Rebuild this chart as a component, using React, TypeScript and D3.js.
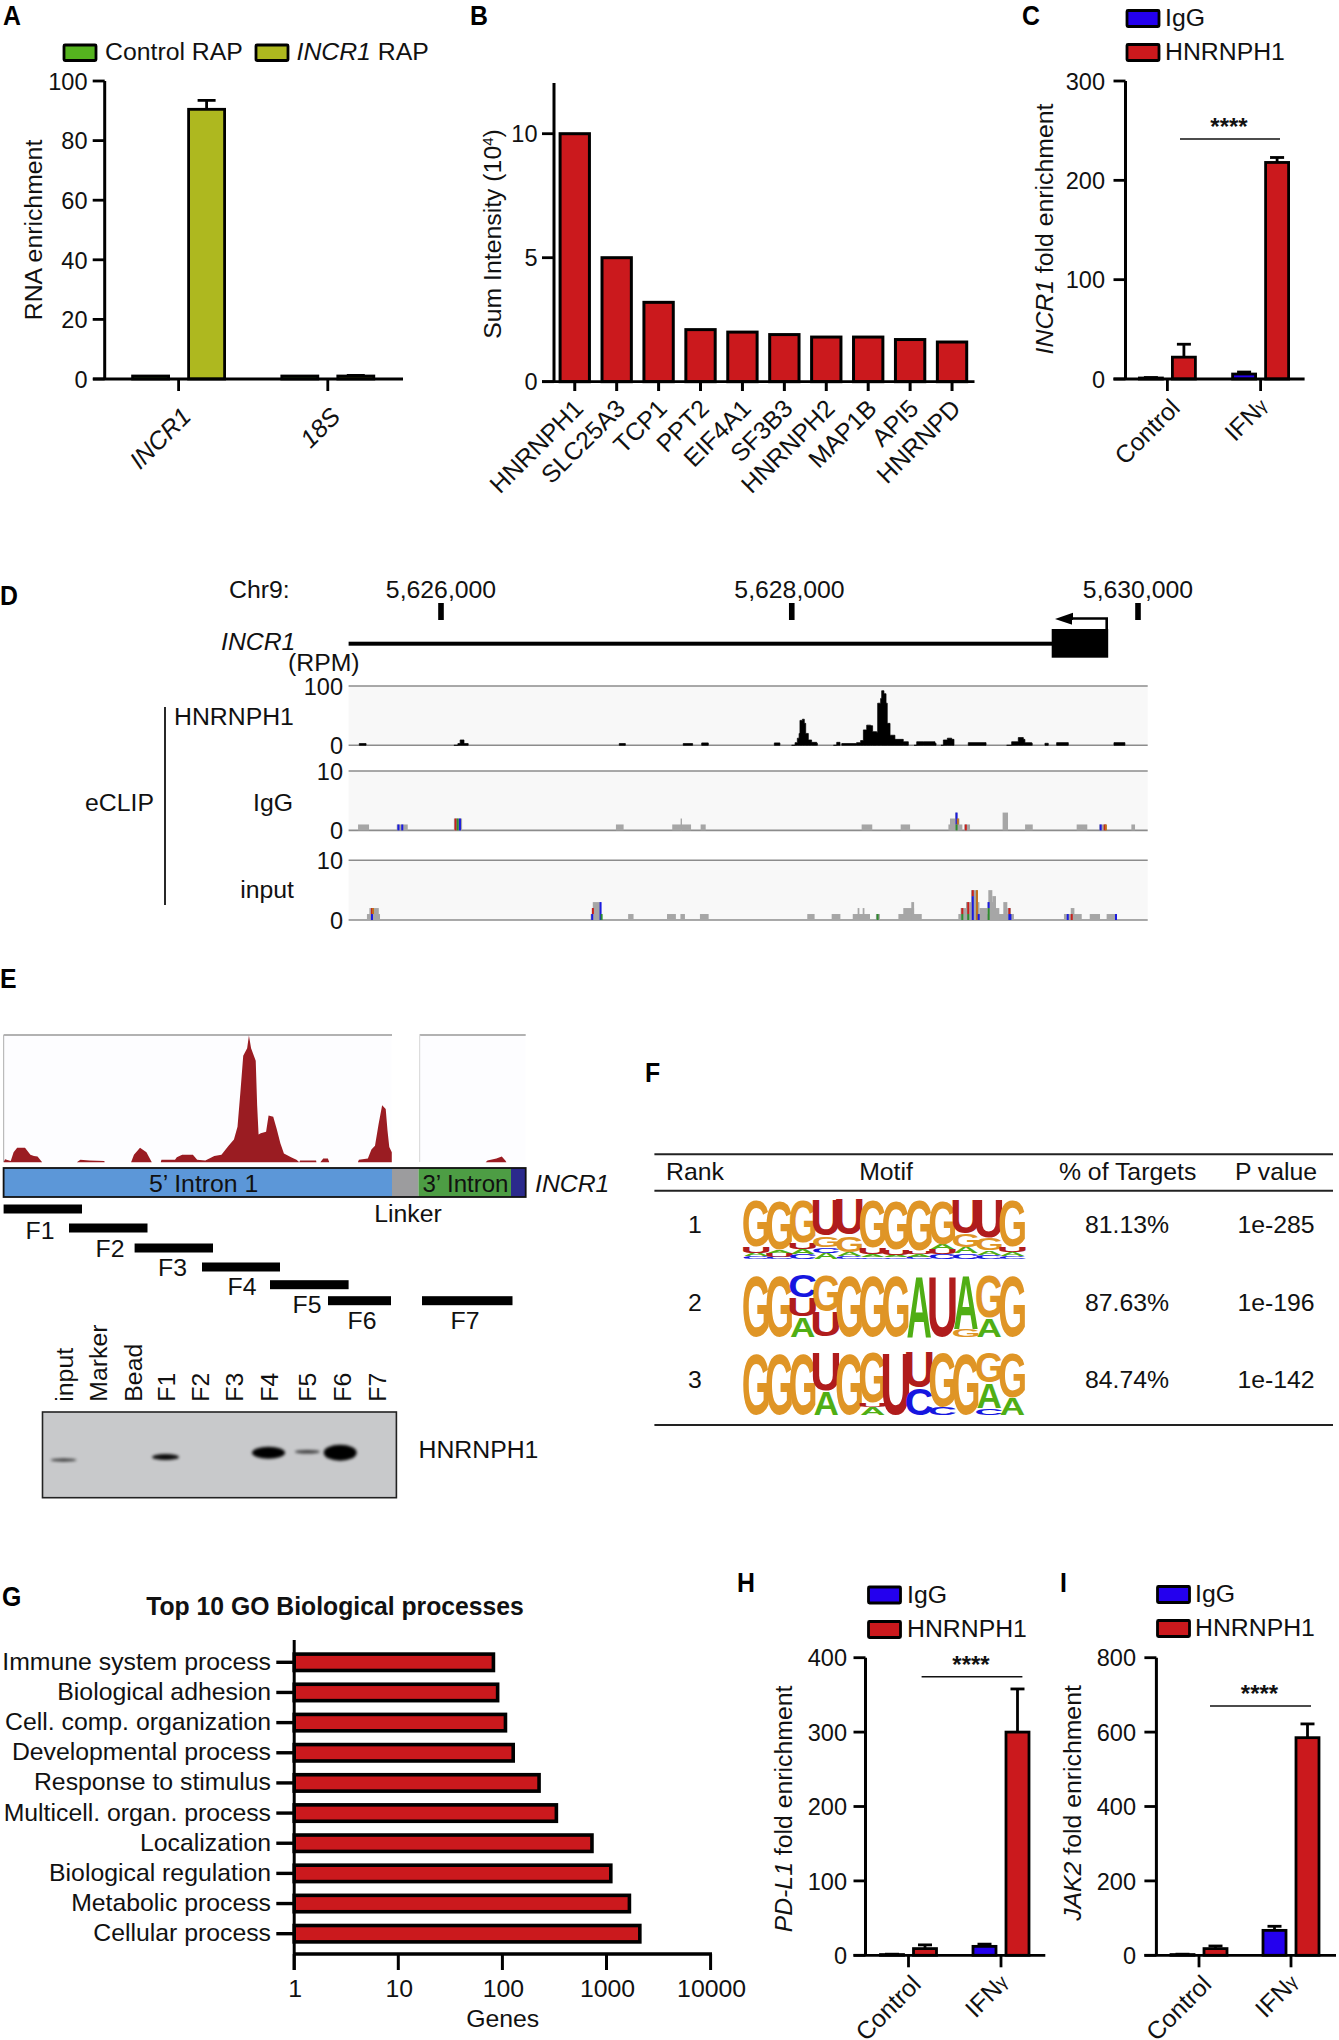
import React from "react";
import * as d3 from "d3";

const FONT = "'Liberation Sans', Arial, sans-serif";
const RED = "#cb191d";
const BLUE = "#2400ee";
const GREEN = "#55b31f";
const OLIVE = "#aeb81f";

// Panel A
const aGroups = ["INCR1", "18S"];
const aControl = [1, 1];
const aRap = [90.5, 1];
const aRapErr = [93.5, 1.2];
const aTicks = [0, 20, 40, 60, 80, 100];
// Panel B
const bProteins = ["HNRNPH1", "SLC25A3", "TCP1", "PPT2", "EIF4A1", "SF3B3", "HNRNPH2", "MAP1B", "API5", "HNRNPD"];
const bIntensity = [10, 5, 3.2, 2.1, 2.0, 1.9, 1.8, 1.8, 1.7, 1.6];
const bTicks = [0, 5, 10];
// Panels C, H, I
const treatments = ["Control", "IFNγ"];
const cIgG = [1, 5];
const cIgGErr = [1.5, 7];
const cHn = [22, 218];
const cHnErr = [35, 223];
const cTicks = [0, 100, 200, 300];
const hIgG = [1, 12];
const hIgGErr = [1.5, 15];
const hHn = [9, 300];
const hHnErr = [14, 358];
const hTicks = [0, 100, 200, 300, 400];
const iIgG = [2, 67];
const iIgGErr = [3, 78];
const iHn = [18, 585];
const iHnErr = [25, 622];
const iTicks = [0, 200, 400, 600, 800];

// Panel D: genome positions in kb relative to 5,626,000; RPM coverage
const dLabels = [5626000, 5628000, 5630000];
const dTickKb = [0, 2.013, 4];
const dHnrnph1: [number, number][][] = [
  [[-0.469, 0], [-0.469, 3], [-0.43, 3], [-0.43, 0]],
  [[0.074, 0], [0.097, 3], [0.11, 9], [0.132, 3], [0.156, 0]],
  [[1.023, 0], [1.023, 3], [1.058, 3], [1.058, 0]],
  [[1.39, 0], [1.39, 3], [1.444, 3], [1.444, 0]],
  [[1.496, 0], [1.496, 4], [1.534, 4], [1.534, 0]],
  [[1.913, 0], [1.913, 4], [1.945, 4], [1.945, 0]],
  [[2.012, 0], [2.032, 4.5], [2.045, 12], [2.055, 20], [2.06, 42], [2.074, 44], [2.085, 37], [2.093, 20], [2.108, 9], [2.127, 5], [2.156, 3.4], [2.16, 0]],
  [[2.252, 0], [2.271, 5], [2.29, 0]],
  [[2.3, 0], [2.3, 3], [2.37, 3], [2.376, 3], [2.385, 4.5], [2.408, 8], [2.424, 26], [2.443, 34], [2.466, 33], [2.477, 23], [2.5, 22], [2.506, 71], [2.523, 79], [2.529, 92], [2.542, 87], [2.554, 71], [2.561, 37], [2.577, 17], [2.605, 10], [2.653, 6], [2.682, 0]],
  [[2.715, 0], [2.73, 6], [2.768, 6], [2.835, 3.5], [2.841, 0]],
  [[2.869, 0], [2.883, 9], [2.906, 12], [2.931, 10], [2.944, 2], [2.944, 0]],
  [[3.026, 0], [3.026, 4.5], [3.128, 4.5], [3.128, 0]],
  [[3.246, 0], [3.275, 6], [3.313, 13], [3.342, 10], [3.351, 4.5], [3.39, 3.4], [3.393, 0]],
  [[3.466, 0], [3.466, 3.4], [3.485, 3.4], [3.485, 0]],
  [[3.533, 0], [3.533, 4.5], [3.6, 4.5], [3.6, 0]],
  [[3.862, 0], [3.862, 4.5], [3.925, 4.5], [3.925, 0]],
];
// [start kb, end kb, stacked read level]
const dIgG: [number, number, number][] = [
  [-0.476, -0.413, 1], [-0.254, -0.191, 1], [0.074, 0.121, 2], [1.004, 1.048, 1], [1.327, 1.435, 1], [1.375, 1.383, 2],
  [1.49, 1.519, 1], [2.414, 2.475, 1], [2.638, 2.692, 1], [2.912, 2.992, 1], [2.921, 2.975, 2], [2.95, 2.963, 3],
  [3.003, 3.036, 1], [3.223, 3.254, 3], [3.352, 3.396, 1], [3.648, 3.709, 1], [3.778, 3.815, 1], [3.962, 3.983, 1],
];
const dInput: [number, number, number][] = [
  [-0.425, -0.35, 1], [-0.411, -0.357, 2], [0.859, 0.917, 1], [0.866, 0.917, 2], [0.871, 0.917, 3], [1.074, 1.105, 1], [1.297, 1.348, 1],
  [1.374, 1.4, 1], [1.486, 1.536, 1], [2.102, 2.144, 1], [2.242, 2.292, 1], [2.363, 2.462, 1], [2.391, 2.401, 2], [2.42, 2.43, 2],
  [2.496, 2.519, 1], [2.625, 2.759, 1], [2.653, 2.715, 2], [2.699, 2.715, 3], [2.969, 3.288, 1], [2.982, 3.032, 2], [3.013, 3.032, 3],
  [3.032, 3.09, 3], [3.042, 3.08, 5], [3.09, 3.137, 2], [3.137, 3.185, 3], [3.141, 3.164, 5], [3.164, 3.185, 4], [3.185, 3.204, 2],
  [3.227, 3.25, 3], [3.25, 3.271, 2], [3.575, 3.677, 1], [3.614, 3.635, 2], [3.723, 3.782, 1], [3.82, 3.878, 1],
];
// mismatch stripes: [kb, from level, to level, colour name]
const dIgGStripes: [number, number, number, string][] = [
  [-0.25, 0, 1, "b"], [-0.228, 0, 1, "b"], [0.078, 0, 2, "r"], [0.09, 0, 2, "g"], [0.103, 0, 2, "b"], [2.953, 1, 3, "b"], [2.953, 0, 1, "g"],
  [2.96, 1, 2, "o"], [3.006, 0, 1, "r"], [3.78, 0, 1, "b"], [3.803, 0, 1, "r"], [3.81, 0, 1, "o"],
];
const dInputStripes: [number, number, number, string][] = [
  [-0.402, 1, 2, "r"], [-0.396, 1, 2, "o"], [-0.402, 0, 1, "b"], [0.862, 0, 1, "b"], [0.866, 1, 2, "r"], [0.91, 0, 3, "b"], [0.916, 0, 1, "g"],
  [2.5, 0, 1, "g"], [2.986, 0, 1, "g"], [2.986, 1, 2, "r"], [3.02, 1, 3, "r"], [3.02, 0, 1, "g"], [3.046, 0, 4, "b"], [3.046, 4, 5, "r"],
  [3.07, 0, 5, "o"], [3.08, 0, 1, "b"], [3.137, 0, 2, "g"], [3.137, 2, 3, "b"], [3.256, 0, 1, "b"], [3.256, 1, 2, "r"], [3.262, 0, 1, "b"],
  [3.591, 0, 1, "b"], [3.614, 0, 1, "r"], [3.868, 0, 1, "b"],
];
const stripeColors: Record<string, string> = { r: "#c8201c", g: "#2e8b2e", b: "#1a1ae0", o: "#c0701a" };

// Panel E: position along construct; signal in %
const eLeft: [number, number][] = [
  [10, 0], [14, 2.5], [30, 1], [38, 8], [48, 11.5], [70, 11.5], [85, 6], [95, 5], [105, 4.5], [118, 0], [215, 0], [225, 2], [250, 1.5], [292, 1], [293, 0],
  [367, 0], [375, 6], [392, 11.5], [410, 8], [425, 0], [450, 0], [452, 2], [490, 2], [495, 4], [510, 6], [540, 6], [552, 2], [575, 1.5], [600, 5], [620, 6],
  [640, 13], [655, 18], [665, 28], [673, 55], [681, 84], [692, 90], [697, 100], [703, 90], [716, 80], [720, 45], [724, 22], [730, 23], [745, 24], [752, 37],
  [765, 36], [775, 26], [785, 15], [795, 7], [815, 4], [830, 2], [838, 0], [840, 1.5], [885, 1.5], [886, 0], [897, 0], [905, 3], [918, 3], [922, 0],
  [1002, 0], [1005, 2], [1030, 3], [1040, 10], [1050, 13], [1060, 30], [1070, 45], [1080, 42], [1085, 25], [1090, 12], [1097, 8], [1097, 0],
];
const eRight: [number, number][] = [[1360, 0], [1365, 1.5], [1390, 3], [1405, 4.5], [1415, 1.5], [1418, 0]];
const eLanes = ["input", "Marker", "Bead", "F1", "F2", "F3", "F4", "F5", "F6", "F7"];
const eLaneShift = [0, 0, 0, -2.5, -3, -4, -4, 0, 0, 0];
const eBands = [
  { lane: "input", w: 26, h: 3, o: 0.75, cy: 1460 }, { lane: "F1", w: 27, h: 6, o: 0.95, cy: 1457 }, { lane: "F4", w: 33, h: 12, o: 1, cy: 1452.7 },
  { lane: "F5", w: 25, h: 3.5, o: 0.7, cy: 1451.7 }, { lane: "F6", w: 33, h: 16, o: 1, cy: 1452.7 },
];

// Panel F
const fRanks = ["1", "2", "3"];
const fTargets = ["81.13%", "87.63%", "84.74%"];
const fP = ["1e-285", "1e-196", "1e-142"];
type Stack = [string, number][];
const logo1: Stack[] = [
  [["C", .045], ["A", .055], ["U", .1], ["G", .8]], [["C", .04], ["U", .06], ["A", .05], ["G", .85]], [["C", .08], ["A", .09], ["U", .1], ["G", .73]],
  [["A", .1], ["C", .1], ["G", .19], ["U", .61]], [["C", .05], ["A", .07], ["G", .28], ["U", .6]], [["C", .03], ["A", .05], ["U", .1], ["G", .82]],
  [["C", .03], ["A", .04], ["U", .09], ["G", .84]], [["C", .04], ["A", .05], ["U", .05], ["G", .86]], [["C", .08], ["U", .08], ["A", .08], ["G", .76]],
  [["C", .1], ["A", .1], ["G", .22], ["U", .58]], [["C", .07], ["A", .07], ["G", .21], ["U", .65]], [["C", .05], ["A", .07], ["U", .09], ["G", .79]],
];
const logo2: Stack[] = [
  [["G", 1]], [["G", 1]], [["A", .32], ["U", .31], ["C", .37]], [["U", .4], ["G", .6]], [["G", 1]], [["G", 1]], [["G", 1]], [["A", 1]], [["U", 1]],
  [["G", .13], ["A", .87]], [["A", .3], ["G", .7]], [["G", 1]],
];
const logo3: Stack[] = [
  [["G", 1]], [["G", 1]], [["G", 1]], [["A", .38], ["U", .62]], [["G", 1]], [["A", .12], ["U", .07], ["G", .81]], [["U", 1]], [["C", .43], ["U", .57]],
  [["C", .12], ["G", .88]], [["G", 1]], [["C", .11], ["A", .4], ["G", .49]], [["A", .27], ["G", .73]],
];
const logos = [logo1, logo2, logo3];
const logoColor: Record<string, string> = { G: "#df9526", U: "#b01c1c", A: "#50ae14", C: "#1616e0" };
// glyph metrics in em: left, right, top, bottom
const glyph: Record<string, number[]> = {
  G: [0.045, 0.72, 0.728, -0.012], U: [0.07, 0.65, 0.716, -0.012], A: [0.0, 0.72, 0.716, 0], C: [0.045, 0.68, 0.728, -0.012],
};

// Panel G
const gProcesses = ["Immune system process", "Biological adhesion", "Cell. comp. organization", "Developmental process", "Response to stimulus",
  "Multicell. organ. process", "Localization", "Biological regulation", "Metabolic process", "Cellular process"];
const gGenes = [82, 90, 107, 127, 225, 330, 725, 1100, 1660, 2090];
const gTicks = [1, 10, 100, 1000, 10000];

function Tx({ x, y, r = 0, size = 24.8, anchor = "start", bold, italic, sx = 1, fill = "#111", children }: any) {
  return (
    <text transform={`translate(${x},${y}) rotate(${r}) scale(${sx},1)`} fontSize={size} textAnchor={anchor} fontFamily={FONT}
      fontWeight={bold ? 700 : 400} fontStyle={italic ? "italic" : "normal"} fill={fill}>
      {children}
    </text>
  );
}

const It = ({ children }: any) => <tspan fontStyle="italic">{children}</tspan>;
const Gamma = () => <tspan fontSize={18} dy={-2}>γ</tspan>;
const PanelLetter = ({ x, y, t }: any) => <Tx x={x} y={y} size={27} bold sx={0.92} fill="#000">{t}</Tx>;

function YAxis({ y, ticks, x, labelX, top }: any) {
  return (
    <g>
      <line x1={x} x2={x} y1={top ?? y(d3.max(ticks) as number)} y2={y(0)} stroke="#000" strokeWidth={3} />
      {ticks.map((t: number) => (
        <g key={t}>
          <line x1={x - 12} x2={x} y1={y(t)} y2={y(t)} stroke="#000" strokeWidth={2.8} />
          <Tx x={labelX} y={y(t) + 8.7} anchor="end" sx={0.95}>{t}</Tx>
        </g>
      ))}
    </g>
  );
}

function Legend({ items, x, tx }: any) {
  return (
    <g>
      {items.map((it: any) => (
        <g key={it.label}>
          <rect x={x} y={it.y} width={32} height={16} fill={it.fill} stroke="#000" strokeWidth={2.8} rx={1} />
          <Tx x={tx} y={it.base}>{it.label}</Tx>
        </g>
      ))}
    </g>
  );
}

function Err({ cx, from, to, half = 8 }: any) {
  return (
    <g stroke="#000" strokeWidth={2.8}>
      <line x1={cx} x2={cx} y1={from} y2={to} />
      <line x1={cx - half} x2={cx + half} y1={to} y2={to} />
    </g>
  );
}

function GroupedPanel({ cfg }: any) {
  const y = d3.scaleLinear().domain([0, cfg.max]).range([cfg.y0, cfg.yTop]);
  const gx = d3.scalePoint<string>().domain(treatments).range(cfg.groupX);
  const sx = d3.scalePoint<string>().domain(["IgG", "HNRNPH1"]).range([-16.5, 16.5]);
  const bw = 23;
  return (
    <g>
      {treatments.map((t, i) =>
        ([["IgG", cfg.igg[i], cfg.iggErr[i], BLUE], ["HNRNPH1", cfg.hn[i], cfg.hnErr[i], RED]] as any[]).map(([s, v, e, f]) => {
          const cx = (gx(t) as number) + (sx(s) as number);
          return (
            <g key={t + s}>
              <Err cx={cx} from={y(v)} to={y(e)} half={7} />
              <rect x={cx - bw / 2} y={y(v)} width={bw} height={y(0) - y(v)} fill={f} stroke="#000" strokeWidth={2.8} />
            </g>
          );
        })
      )}
      <YAxis y={y} ticks={cfg.ticks} x={cfg.axisX} labelX={cfg.labelX} />
      <line x1={cfg.axisX - 12} x2={cfg.axisEnd} y1={y(0)} y2={y(0)} stroke="#000" strokeWidth={2.8} />
      {treatments.map((t) => (
        <g key={t}>
          <line x1={gx(t)} x2={gx(t)} y1={y(0)} y2={y(0) + 12} stroke="#000" strokeWidth={2.8} />
          {t === "Control"
            ? <Tx x={(gx(t) as number) + 14} y={y(0) + 30.5} r={-45} anchor="end">{t}</Tx>
            : <Tx x={(gx(t) as number) + 9} y={y(0) + 29} r={-45} anchor="end">IFN<Gamma /></Tx>}
        </g>
      ))}
      <line x1={cfg.sig[0]} x2={cfg.sig[1]} y1={cfg.sig[2]} y2={cfg.sig[2]} stroke="#111" strokeWidth={1.6} />
      <Tx x={(cfg.sig[0] + cfg.sig[1]) / 2 - 1} y={cfg.sig[2] - 4} size={24} bold anchor="middle">****</Tx>
      <Tx x={cfg.ylabelX} y={cfg.ylabelY} r={-90} anchor="middle">{cfg.ylabel}</Tx>
      <Legend x={cfg.legX} tx={cfg.legTx} items={[
        { label: "IgG", y: cfg.legY[0], base: cfg.legY[0] + 15.5, fill: BLUE },
        { label: "HNRNPH1", y: cfg.legY[1], base: cfg.legY[1] + 15.5, fill: RED },
      ]} />
    </g>
  );
}

function PanelA() {
  const y = d3.scaleLinear().domain([0, 100]).range([379, 81]);
  const gx = d3.scalePoint<string>().domain(aGroups).range([178.6, 327.8]);
  const bw = 36;
  return (
    <g>
      <PanelLetter x={3} y={24.5} t="A" />
      <rect x={64} y={45} width={32} height={15.5} fill={GREEN} stroke="#000" strokeWidth={2.8} rx={1} />
      <Tx x={105} y={60}>Control RAP</Tx>
      <rect x={256} y={45} width={32} height={15.5} fill={OLIVE} stroke="#000" strokeWidth={2.8} rx={1} />
      <Tx x={296.5} y={60}><It>INCR1</It> RAP</Tx>
      {aGroups.map((g, i) => (
        <g key={g}>
          <rect x={(gx(g) as number) - 28 - bw / 2} y={y(aControl[i])} width={bw} height={y(0) - y(aControl[i])} fill={GREEN} stroke="#000" strokeWidth={2.8} />
          <Err cx={(gx(g) as number) + 28} from={y(aRap[i])} to={y(aRapErr[i])} half={9} />
          <rect x={(gx(g) as number) + 28 - bw / 2} y={y(aRap[i])} width={bw} height={y(0) - y(aRap[i])} fill={OLIVE} stroke="#000" strokeWidth={2.8} />
          <line x1={gx(g)} x2={gx(g)} y1={379} y2={391} stroke="#000" strokeWidth={2.8} />
          <Tx x={(gx(g) as number) + 14} y={418} r={-45} anchor="end" italic>{g}</Tx>
        </g>
      ))}
      <YAxis y={y} ticks={aTicks} x={104.7} labelX={87.5} />
      <line x1={93} x2={403} y1={379} y2={379} stroke="#000" strokeWidth={2.8} />
      <Tx x={42} y={230} r={-90} anchor="middle">RNA enrichment</Tx>
    </g>
  );
}

function PanelB() {
  const y = d3.scaleLinear().domain([0, 10]).range([381.7, 133.7]);
  const x = d3.scaleBand<string>().domain(bProteins).range([553.8, 973]).paddingInner(0.3).paddingOuter(0.15);
  return (
    <g>
      <PanelLetter x={470} y={24.5} t="B" />
      {bProteins.map((p, i) => {
        const c = (x(p) as number) + x.bandwidth() / 2;
        return (
          <g key={p}>
            <rect x={x(p)} y={y(bIntensity[i])} width={x.bandwidth()} height={y(0) - y(bIntensity[i])} fill={RED} stroke="#000" strokeWidth={3} />
            <line x1={c} x2={c} y1={381.7} y2={391} stroke="#000" strokeWidth={3} />
            <Tx x={c + 10} y={410} r={-45} anchor="end">{p}</Tx>
          </g>
        );
      })}
      <YAxis y={y} ticks={bTicks} x={554} labelX={537.5} top={83} />
      <line x1={542} x2={974.5} y1={381.7} y2={381.7} stroke="#000" strokeWidth={2.8} />
      <Tx x={501} y={234} r={-90} anchor="middle" size={24.8}>Sum Intensity (10<tspan fontSize={15} dy={-8}>4</tspan><tspan dy={8}>)</tspan></Tx>
    </g>
  );
}

function PanelD() {
  const x = d3.scaleLinear().domain([0, 4]).range([441, 1138]);
  const left = 348.6, right = 1147.7;
  const tracks = [
    { top: 686, bottom: 745.3, max: 100 },
    { top: 771, bottom: 830.4, max: 10 },
    { top: 860.3, bottom: 920, max: 10 },
  ];
  const y0 = d3.scaleLinear().domain([0, 100]).range([tracks[0].bottom, tracks[0].top]);
  const area = d3.area<[number, number]>().x((d) => x(d[0])).y0(tracks[0].bottom).y1((d) => y0(d[1])).curve(d3.curveStepAfter);
  const reads = (data: [number, number, number][], stripes: [number, number, number, string][], t: any) => {
    const y = d3.scaleLinear().domain([0, t.max]).range([t.bottom, t.top]);
    return (
      <g>
        {data.map((d, i) => (
          <rect key={i} x={x(d[0])} width={x(d[1]) - x(d[0])} y={y(d[2])} height={y(0) - y(d[2])} fill="#a6a6a6" />
        ))}
        {stripes.map((s, i) => (
          <rect key={i} x={x(s[0])} width={2} y={y(s[2])} height={y(s[1]) - y(s[2])} fill={stripeColors[s[3]]} />
        ))}
      </g>
    );
  };
  return (
    <g>
      <PanelLetter x={0} y={605} t="D" />
      <Tx x={229} y={598}>Chr9:</Tx>
      {dLabels.map((p, i) => (
        <g key={p}>
          <rect x={x(dTickKb[i]) - 2.8} y={603} width={5.6} height={17} fill="#000" />
          <Tx x={x((p - 5626000) / 1000)} y={598} anchor="middle">{d3.format(",")(p)}</Tx>
        </g>
      ))}
      <Tx x={221} y={650} italic>INCR1</Tx>
      <Tx x={288} y={671}>(RPM)</Tx>
      <rect x={348.6} y={641.7} width={704} height={4} fill="#000" />
      <rect x={1051.7} y={629} width={56.5} height={28.7} fill="#000" />
      <path d="M1106.7,629 V618.5 H1072" fill="none" stroke="#000" strokeWidth={2.6} />
      <path d="M1055,619 L1073,612.7 V625 Z" fill="#000" />
      <rect x={1072} y={620} width={33} height={9} fill="#fff" />
      {tracks.map((t, i) => (
        <g key={i}>
          <rect x={left} y={t.top} width={right - left} height={t.bottom - t.top} fill="#f8f8f8" />
          <line x1={left} x2={right} y1={t.top} y2={t.top} stroke="#8c8c8c" strokeWidth={1.6} />
          <line x1={left} x2={right} y1={t.bottom} y2={t.bottom} stroke="#8c8c8c" strokeWidth={1.6} />
          <Tx x={343} y={t.top + 9} anchor="end" sx={0.95}>{t.max}</Tx>
          <Tx x={343} y={t.bottom + 9} anchor="end" sx={0.95}>0</Tx>
        </g>
      ))}
      {dHnrnph1.map((d, i) => <path key={i} d={area(d) as string} fill="#000" stroke="#000" strokeWidth={0.7} />)}
      {reads(dIgG, dIgGStripes, tracks[1])}
      {reads(dInput, dInputStripes, tracks[2])}
      <Tx x={174} y={725}>HNRNPH1</Tx>
      <Tx x={293} y={810.7} anchor="end">IgG</Tx>
      <Tx x={294} y={898} anchor="end">input</Tx>
      <Tx x={85} y={810.7}>eCLIP</Tx>
      <line x1={165} x2={165} y1={707} y2={905} stroke="#111" strokeWidth={1.8} />
    </g>
  );
}

function PanelE() {
  const x = d3.scaleLinear().domain([10, 1472]).range([3.6, 525.7]);
  const y = d3.scaleLinear().domain([0, 100]).range([1162.3, 1035.5]);
  const area = d3.area<[number, number]>().x((d) => x(d[0])).y0(1162.3).y1((d) => y(d[1]));
  const frag: [string, number, number, number][] = [
    ["F1", 3.6, 82, 1209], ["F2", 69, 147.5, 1228], ["F3", 134.6, 213, 1248], ["F4", 202, 280, 1267],
    ["F5", 270, 348.6, 1284.7], ["F6", 328, 391, 1300.7], ["F7", 422, 512.5, 1300.7],
  ];
  const fragLabel: Record<string, number[]> = { F1: [40, 1239], F2: [110, 1256.7], F3: [172.5, 1276], F4: [242, 1295], F5: [307, 1313], F6: [362, 1329], F7: [465, 1329] };
  const lane = d3.scalePoint<string>().domain(eLanes).range([63.6, 377]);
  const laneX = (l: string) => (lane(l) as number) + eLaneShift[eLanes.indexOf(l)];
  return (
    <g>
      <defs>
        <filter id="bandBlur" x="-30%" y="-80%" width="160%" height="260%"><feGaussianBlur stdDeviation="1.5" /></filter>
      </defs>
      <PanelLetter x={0} y={988} t="E" />
      <rect x={3.6} y={1035} width={388} height={127} fill="#fdfdff" />
      <rect x={419.6} y={1035} width={106} height={127} fill="#fdfdff" />
      <line x1={3.6} x2={392} y1={1035} y2={1035} stroke="#999" strokeWidth={1.4} />
      <line x1={419.6} x2={525.7} y1={1035} y2={1035} stroke="#999" strokeWidth={1.4} />
      <line x1={3.6} x2={3.6} y1={1035} y2={1162} stroke="#bbb" strokeWidth={1.2} />
      <line x1={419.6} x2={419.6} y1={1035} y2={1162} stroke="#ddd" strokeWidth={1.2} />
      <path d={area(eLeft) as string} fill="#9a1c22" />
      <path d={area(eRight) as string} fill="#9a1c22" />
      <rect x={3.6} y={1168} width={388.4} height={29} fill="#5c97d8" />
      <rect x={392} y={1168} width={26.5} height={29} fill="#9c9c9e" />
      <rect x={418.5} y={1168} width={92.5} height={29} fill="#4d9d44" />
      <rect x={511} y={1168} width={14.7} height={29} fill="#2b2a8c" />
      <rect x={3.6} y={1168} width={522.1} height={29} fill="none" stroke="#111" strokeWidth={1.8} />
      <Tx x={203.6} y={1191.5} anchor="middle">5’ Intron 1</Tx>
      <Tx x={465.5} y={1191.5} anchor="middle" sx={0.97}>3’ Intron</Tx>
      <Tx x={535} y={1191.5} italic>INCR1</Tx>
      <Tx x={408} y={1221.5} anchor="middle">Linker</Tx>
      {frag.map(([n, a, b, yy]) => (
        <g key={n}>
          <rect x={a} y={yy - 4.5} width={b - a} height={9} fill="#000" />
          <Tx x={fragLabel[n][0]} y={fragLabel[n][1]} anchor="middle">{n}</Tx>
        </g>
      ))}
      {eLanes.map((l) => (
        <Tx key={l} x={laneX(l) + 9} y={1401.7} r={-90}>{l}</Tx>
      ))}
      <rect x={42.5} y={1412} width={353.9} height={85.7} fill="#c8c9cb" stroke="#222" strokeWidth={1.6} />
      {eBands.map((b) => (
        <ellipse key={b.lane} cx={laneX(b.lane) + (b.lane === "F6" ? -2 : 0)} cy={b.cy}
          rx={b.w / 2} ry={b.h / 2} fill="#000" opacity={b.o} filter="url(#bandBlur)" />
      ))}
      <Tx x={418.5} y={1458}>HNRNPH1</Tx>
    </g>
  );
}

function Logo({ stacks, top, bottom }: any) {
  const cols = d3.scaleBand<number>().domain(d3.range(stacks.length)).range([744.5, 1024]);
  const h = d3.scaleLinear().domain([0, 1]).range([0, bottom - top]);
  return (
    <g>
      {stacks.map((s: Stack, i: number) => {
        let acc = 0;
        return s.map(([ch, f], k) => {
          const m = glyph[ch];
          const w = cols.bandwidth() + 2;
          const hh = h(f);
          const baseY = bottom - h(acc);
          acc += f;
          const fs = 100;
          const sx = w / ((m[1] - m[0]) * fs);
          const sy = hh / ((m[2] - m[3]) * fs);
          const tx = (cols(i) as number) - 1 - m[0] * fs * sx;
          const ty = baseY + m[3] * fs * sy;
          return (
            <text key={k} transform={`translate(${tx},${ty}) scale(${sx},${sy})`} fontFamily={FONT} fontWeight={700} fontSize={fs} fill={logoColor[ch]}>{ch}</text>
          );
        });
      })}
    </g>
  );
}

function PanelF() {
  const rows = [[1199, 1259], [1274, 1336.7], [1351.5, 1415]];
  const base = [1233, 1310.7, 1388];
  return (
    <g>
      <PanelLetter x={645} y={1082} t="F" />
      {[1154.3, 1190.7, 1425].map((yy) => <line key={yy} x1={654.4} x2={1333} y1={yy} y2={yy} stroke="#222" strokeWidth={2} />)}
      <Tx x={695} y={1180} anchor="middle">Rank</Tx>
      <Tx x={886} y={1180} anchor="middle">Motif</Tx>
      <Tx x={1127.6} y={1180} anchor="middle">% of Targets</Tx>
      <Tx x={1276} y={1180} anchor="middle">P value</Tx>
      {fRanks.map((r, i) => (
        <g key={r}>
          <Tx x={695} y={base[i]} anchor="middle">{r}</Tx>
          <Logo stacks={logos[i]} top={rows[i][0]} bottom={rows[i][1]} />
          <Tx x={1127} y={base[i]} anchor="middle">{fTargets[i]}</Tx>
          <Tx x={1276} y={base[i]} anchor="middle">{fP[i]}</Tx>
        </g>
      ))}
    </g>
  );
}

function PanelG() {
  const x = d3.scaleLog().domain([1, 10000]).range([294.2, 710.6]);
  const y = d3.scalePoint<string>().domain(gProcesses).range([1662.3, 1933.7]);
  return (
    <g>
      <PanelLetter x={2} y={1606} t="G" />
      <Tx x={335} y={1615} anchor="middle" bold size={25} sx={0.99}>Top 10 GO Biological processes</Tx>
      {gProcesses.map((p, i) => {
        const c = y(p) as number;
        return (
          <g key={p}>
            <rect x={x(1)} y={c - 8.2} width={x(gGenes[i]) - x(1)} height={16.4} fill={RED} stroke="#000" strokeWidth={3.6} />
            <line x1={276.3} x2={294.2} y1={c} y2={c} stroke="#000" strokeWidth={3.4} />
            <Tx x={271} y={c + 7.5} anchor="end" size={24.8}>{p}</Tx>
          </g>
        );
      })}
      <line x1={294.2} x2={294.2} y1={1640} y2={1970} stroke="#000" strokeWidth={3} />
      <line x1={294.2} x2={712} y1={1954} y2={1954} stroke="#000" strokeWidth={3.4} />
      {gTicks.map((t) => (
        <g key={t}>
          <line x1={x(t)} x2={x(t)} y1={1954} y2={1970} stroke="#000" strokeWidth={3} />
          <Tx x={x(t) + 1} y={1997} anchor="middle">{t}</Tx>
        </g>
      ))}
      <Tx x={502.7} y={2026.5} anchor="middle">Genes</Tx>
    </g>
  );
}

export default function App() {
  return (
    <svg width={1339} height={2040} viewBox="0 0 1339 2040" style={{ position: "absolute", left: 0, top: 0, background: "#fff" }}>
      <PanelA />
      <PanelB />
      <PanelLetter x={1022} y={24.5} t="C" />
      <GroupedPanel cfg={{
        max: 300, y0: 379, yTop: 81, groupX: [1167.4, 1260.6], igg: cIgG, iggErr: cIgGErr, hn: cHn, hnErr: cHnErr, ticks: cTicks,
        axisX: 1125.5, labelX: 1105, axisEnd: 1304.6, sig: [1180, 1280, 139],
        ylabel: <><It>INCR1</It> fold enrichment</>, ylabelX: 1053, ylabelY: 229, legX: 1127, legTx: 1165, legY: [10.5, 44.5],
      }} />
      <PanelD />
      <PanelE />
      <PanelF />
      <PanelG />
      <PanelLetter x={737} y={1592} t="H" />
      <GroupedPanel cfg={{
        max: 400, y0: 1955.3, yTop: 1657.7, groupX: [908.5, 1001], igg: hIgG, iggErr: hIgGErr, hn: hHn, hnErr: hHnErr, ticks: hTicks,
        axisX: 865.5, labelX: 847, axisEnd: 1045.3, sig: [921.6, 1022.4, 1676.7],
        ylabel: <><It>PD-L1</It> fold enrichment</>, ylabelX: 792, ylabelY: 1809, legX: 868.5, legTx: 907, legY: [1587, 1621.5],
      }} />
      <PanelLetter x={1060} y={1592} t="I" />
      <GroupedPanel cfg={{
        max: 800, y0: 1955.3, yTop: 1657.7, groupX: [1199, 1291], igg: iIgG, iggErr: iIgGErr, hn: iHn, hnErr: iHnErr, ticks: iTicks,
        axisX: 1156.4, labelX: 1136, axisEnd: 1336, sig: [1210, 1311, 1706],
        ylabel: <><It>JAK2</It> fold enrichment</>, ylabelX: 1081, ylabelY: 1803, legX: 1157.5, legTx: 1195, legY: [1586.5, 1620.5],
      }} />
    </svg>
  );
}
